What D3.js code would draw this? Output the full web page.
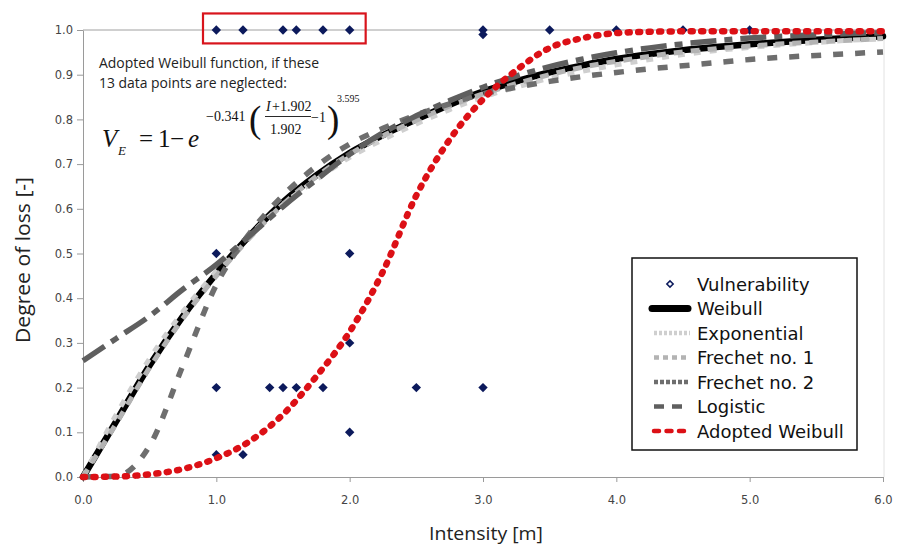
<!DOCTYPE html>
<html>
<head>
<meta charset="utf-8">
<script src="https://cdn.jsdelivr.net/npm/d3@7"></script>
<style>
  body { margin: 0; background: #fff; }
  svg { display: block; }
</style>
</head>
<body>
<script>

// Vulnerability curves vs intensity

const width = 897, height = 547;
const margin = { top: 30, right: 13, bottom: 70, left: 83 };

// intensity grid used for the fitted curves [m]
const intensity = [0, 0.25, 0.5, 0.75, 1.0, 1.25, 1.5, 1.75, 2.0, 2.25, 2.5, 2.75, 3.0,
                   3.25, 3.5, 3.75, 4.0, 4.25, 4.5, 4.75, 5.0, 5.25, 5.5, 5.75, 6.0];

const weibull     = [0, 0.125, 0.25, 0.36, 0.455, 0.54, 0.615, 0.675, 0.725, 0.765, 0.80, 0.833, 0.862,
                     0.885, 0.905, 0.921, 0.935, 0.946, 0.955, 0.962, 0.968, 0.973, 0.978, 0.982, 0.986];
const exponential = [0, 0.14, 0.265, 0.37, 0.46, 0.54, 0.61, 0.665, 0.715, 0.755, 0.79, 0.822, 0.85,
                     0.872, 0.892, 0.908, 0.922, 0.934, 0.945, 0.954, 0.961, 0.967, 0.972, 0.977, 0.98];
const frechet1    = [0, 0.12, 0.245, 0.355, 0.45, 0.535, 0.61, 0.672, 0.722, 0.763, 0.798, 0.83, 0.857,
                     0.88, 0.90, 0.917, 0.93, 0.941, 0.951, 0.958, 0.964, 0.969, 0.973, 0.977, 0.981];
const frechet2    = [0, 0.002, 0.07, 0.25, 0.43, 0.545, 0.63, 0.695, 0.745, 0.78, 0.81, 0.835, 0.857,
                     0.872, 0.885, 0.896, 0.905, 0.913, 0.92, 0.927, 0.934, 0.939, 0.943, 0.947, 0.951];
const logistic    = [0.26, 0.31, 0.36, 0.42, 0.475, 0.54, 0.605, 0.665, 0.722, 0.77, 0.808, 0.842, 0.872,
                     0.897, 0.918, 0.935, 0.949, 0.96, 0.969, 0.976, 0.982, 0.986, 0.989, 0.992, 0.994];
const adopted     = [0, 0.001, 0.006, 0.018, 0.042, 0.08, 0.14, 0.225, 0.325, 0.46, 0.63, 0.755, 0.845,
                     0.91, 0.96, 0.982, 0.993, 0.996, 0.997, 0.997, 0.997, 0.997, 0.997, 0.997, 0.997];

// observed damage points
const obsIntensity = [1.0, 1.2, 1.5, 1.6, 1.8, 2.0, 3.0, 3.0, 3.5, 4.0, 4.5, 5.0,
                      1.0, 2.0, 2.0, 1.0, 1.4, 1.5, 1.6, 1.8, 2.5, 3.0, 2.0, 1.0, 1.2];
const obsLoss      = [1, 1, 1, 1, 1, 1, 1, 0.99, 1, 1, 1, 1,
                      0.5, 0.5, 0.3, 0.2, 0.2, 0.2, 0.2, 0.2, 0.2, 0.2, 0.1, 0.05, 0.05];

const xTicks = [0, 1, 2, 3, 4, 5, 6];
const yTicks = [0, 0.1, 0.2, 0.3, 0.4, 0.5, 0.6, 0.7, 0.8, 0.9, 1.0];

const seriesNames = ["Weibull", "Exponential", "Frechet no. 1", "Frechet no. 2", "Logistic", "Adopted Weibull"];
const seriesValues = [weibull, exponential, frechet1, frechet2, logistic, adopted];

// line looks for each series (plot + legend sample)
const styles = {
  "Weibull":         { color: "#000000", w: 6.5, dash: null,       cap: "round", leg: null },
  "Exponential":     { color: "#cfcfcf", w: 5,   dash: "7,9",      cap: "butt",  leg: "3,2" },
  "Frechet no. 1":   { color: "#b3b3b3", w: 5,   dash: "9,8",      cap: "butt",  leg: "5,4" },
  "Frechet no. 2":   { color: "#6e6e6e", w: 5.5, dash: "10,12",    cap: "butt",  leg: "4,2" },
  "Logistic":        { color: "#5f5f5f", w: 5.5, dash: "26,8,8,8", cap: "butt",  leg: "10,8" },
  "Adopted Weibull": { color: "#dc1016", w: 6.5, dash: "2,8.5",    cap: "round", leg: "5,7.5" }
};

const svg = d3.select("body")
  .append("svg")
  .attr("width", width)
  .attr("height", height);

const x = d3.scaleLinear()
  .domain([0, 6])
  .range([margin.left, width - margin.right - 1]);

const y = d3.scaleLinear()
  .domain([0, 1])
  .range([height - margin.bottom, margin.top]);

// plot frame: top line at 1.0 and faint right edge
svg.append("line")
  .attr("x1", x(0)).attr("x2", x(6))
  .attr("y1", y(1)).attr("y2", y(1))
  .attr("stroke", "#a0a0a0");
svg.append("line")
  .attr("x1", x(6) + 1).attr("x2", x(6) + 1)
  .attr("y1", y(1)).attr("y2", y(0))
  .attr("stroke", "#e2e2e2");

// axes
const yAxis = svg.append("g")
  .attr("transform", `translate(${x(0)},0)`)
  .call(d3.axisLeft(y).tickValues(yTicks).tickFormat(d3.format(".1f")).tickSize(6).tickSizeOuter(0).tickPadding(4));

const xAxis = svg.append("g")
  .attr("transform", `translate(0,${y(0)})`)
  .call(d3.axisBottom(x).tickValues(xTicks).tickFormat(d3.format(".1f")).tickSize(5).tickSizeOuter(0).tickPadding(14));

[xAxis, yAxis].forEach(g => {
  g.select(".domain").attr("stroke", "#9a9a9a");
  g.selectAll(".tick line").attr("stroke", "#9a9a9a");
  g.selectAll(".tick text")
    .attr("fill", "#444")
    .attr("font-family", "DejaVu Sans, sans-serif")
    .attr("font-size", "11.5px");
});

// axis titles
svg.append("text")
  .attr("x", 486).attr("y", 540)
  .attr("text-anchor", "middle")
  .attr("font-family", "Open Sans, sans-serif")
  .attr("font-size", "19px")
  .attr("fill", "#222")
  .attr("textLength", 114).attr("lengthAdjust", "spacingAndGlyphs")
  .text("Intensity [m]");

svg.append("text")
  .attr("transform", "translate(30,260) rotate(-90)")
  .attr("text-anchor", "middle")
  .attr("font-family", "Open Sans, sans-serif")
  .attr("font-size", "20px")
  .attr("fill", "#222")
  .attr("textLength", 166).attr("lengthAdjust", "spacingAndGlyphs")
  .text("Degree of loss [-]");

// observed points (diamonds)
const obs = obsIntensity.map((v, i) => [v, obsLoss[i]]);
svg.selectAll(".obs")
  .data(obs)
  .enter()
  .append("path")
    .attr("class", "obs")
    .attr("d", d3.symbol(d3.symbolSquare).size(44))
    .attr("transform", d => `translate(${x(d[0])},${y(d[1])}) rotate(45)`)
    .attr("fill", "#0c1a5c");

// fitted curves
const line = d3.line()
  .x(d => x(d[0]))
  .y(d => y(d[1]))
  .curve(d3.curveMonotoneX);

seriesNames.forEach((name, k) => {
  const s = styles[name];
  svg.append("path")
    .datum(intensity.map((v, i) => [v, seriesValues[k][i]]))
    .attr("d", line)
    .attr("fill", "none")
    .attr("stroke", s.color)
    .attr("stroke-width", s.w)
    .attr("stroke-linecap", s.cap)
    .attr("stroke-dasharray", s.dash);
});

// red box round the neglected points
svg.append("rect")
  .attr("x", x(0.9)).attr("y", y(1.037))
  .attr("width", x(2.12) - x(0.9)).attr("height", y(0.97) - y(1.037))
  .attr("fill", "none")
  .attr("stroke", "#d8141c")
  .attr("stroke-width", 2.2);

// annotation
const note = svg.append("g")
  .attr("font-family", "Open Sans, sans-serif")
  .attr("font-size", "14.5px")
  .attr("fill", "#222");
note.append("text").attr("x", 99).attr("y", 68)
  .attr("textLength", 220).attr("lengthAdjust", "spacingAndGlyphs")
  .text("Adopted Weibull function, if these");
note.append("text").attr("x", 99).attr("y", 87.5)
  .attr("textLength", 188).attr("lengthAdjust", "spacingAndGlyphs")
  .text("13 data points are neglected:");

// the equation, set piece by piece
const eq = svg.append("g")
  .attr("font-family", "Liberation Serif, Times New Roman, serif")
  .attr("fill", "#111");
const eqText = (tx, ty, size, str, italic) => eq.append("text")
  .attr("x", tx).attr("y", ty)
  .attr("font-size", size + "px")
  .attr("font-style", italic ? "italic" : "normal")
  .text(str);

eqText(102, 146.5, 25, "V", true);
eqText(118, 155, 13, "E", true);
eqText(139, 146.5, 25, "=", false);
eqText(158, 146.5, 25, "1", false);
eqText(170, 146.5, 25, "\u2212", false);
eqText(188, 146.5, 25, "e", true);
eqText(206, 120.5, 14, "\u22120.341", false);
eqText(249, 132, 37, "(", false);
eqText(266, 111, 14, "I", true);
eqText(272, 111, 14, "+1.902", false);
eqText(270, 133.5, 14, "1.902", false);
eqText(311, 122, 14, "\u22121", false);
eqText(327, 132, 37, ")", false);
eqText(337, 101.5, 10, "3.595", false);
eq.append("line")
  .attr("x1", 265).attr("x2", 311)
  .attr("y1", 116.5).attr("y2", 116.5)
  .attr("stroke", "#111").attr("stroke-width", 0.9);

// legend
const legend = svg.append("g").attr("transform", "translate(632,258)");
legend.append("rect")
  .attr("width", 225).attr("height", 192)
  .attr("fill", "#fff")
  .attr("stroke", "#111")
  .attr("stroke-width", 1.5);

const legendNames = ["Vulnerability"].concat(seriesNames);
legendNames.forEach((name, i) => {
  const ly = 26 + i * 24.5;
  if (name === "Vulnerability") {
    legend.append("path")
      .attr("d", d3.symbol(d3.symbolSquare).size(20))
      .attr("transform", `translate(38,${ly}) rotate(45)`)
      .attr("fill", "#fff")
      .attr("stroke", "#0c1a5c")
      .attr("stroke-width", 1.5);
  } else {
    const s = styles[name];
    legend.append("line")
      .attr("x1", name === "Weibull" ? 20 : 22).attr("x2", name === "Weibull" ? 56 : 58)
      .attr("y1", ly).attr("y2", ly)
      .attr("stroke", s.color)
      .attr("stroke-width", name === "Weibull" ? 7 : 4.5)
      .attr("stroke-linecap", s.cap)
      .attr("stroke-dasharray", s.leg);
  }
  legend.append("text")
    .attr("x", 65).attr("y", ly + 6.5)
    .attr("font-family", "DejaVu Sans, sans-serif")
    .attr("font-size", "18px")
    .attr("fill", "#111")
    .text(name);
});

</script>
</body>
</html>
